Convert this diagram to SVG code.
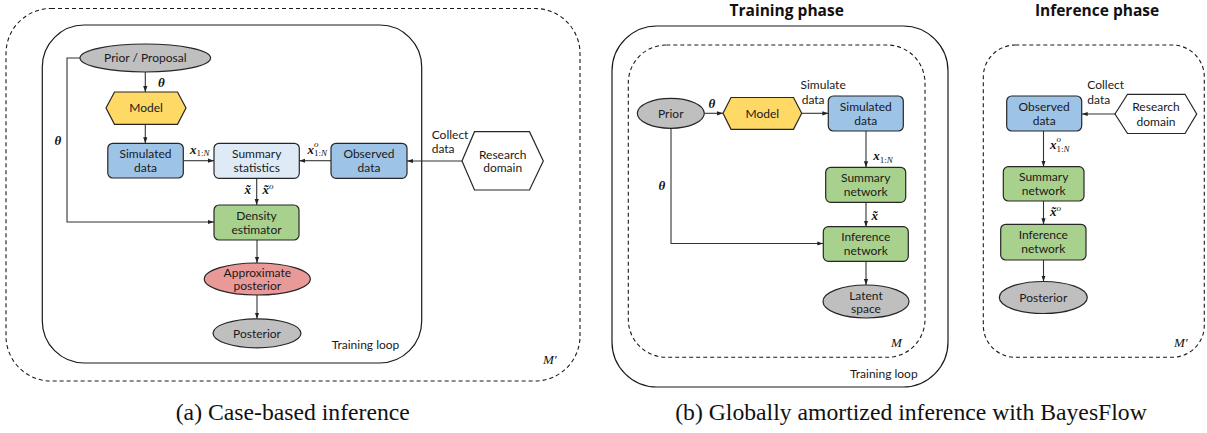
<svg xmlns="http://www.w3.org/2000/svg" width="1207" height="433" viewBox="0 0 1207 433">
<style>
.frame{fill:none;stroke:#1a1a1a;stroke-width:1.2}
.dash{fill:none;stroke:#1a1a1a;stroke-width:1.1;stroke-dasharray:4 3}
.node{stroke:#262626;stroke-width:1.2}
.blue{fill:#9DC3E6}
.lblue{fill:#DEEBF7}
.green{fill:#A9D18E}
.gold{fill:#FFD966}
.gray{fill:#BFBFBF}
.pink{fill:#EA9999}
.white{fill:#ffffff}
.t{font-family:Lato,"Open Sans",sans-serif;font-size:12px;fill:#1a1a1a;text-anchor:middle}
.tl{font-family:Lato,"Open Sans",sans-serif;font-size:12px;fill:#1a1a1a}
.title{font-family:"Open Sans",Lato,sans-serif;font-size:15.5px;font-weight:bold;fill:#111;text-anchor:middle}
.m{font-family:"Liberation Serif",serif;font-size:13px;font-style:italic;font-weight:bold;fill:#111}
.mi{font-family:"Liberation Serif",serif;font-size:13px;font-style:italic;fill:#111}
.sub{font-family:"Liberation Serif",serif;font-size:9px;font-style:normal;font-weight:normal;fill:#111}
.it{font-style:italic}
.cap{font-family:"Liberation Serif","Times New Roman",serif;font-size:23.7px;fill:#111;text-anchor:middle}
.c{fill:none;stroke:#333;stroke-width:1.1;marker-end:url(#arr)}
</style>
<defs>
<marker id="arr" viewBox="0 0 10 10" refX="10" refY="5" markerWidth="6" markerHeight="6" markerUnits="userSpaceOnUse" orient="auto">
<path d="M0,1.5 L10,5 L0,8.5 z" fill="#222"/>
</marker>
</defs>

<!-- containers -->
<g id="containers">
<rect class="dash" x="6" y="8.5" width="574" height="372.5" rx="45" ry="45"/>
<rect class="frame" x="42.3" y="25" width="379.4" height="338" rx="42" ry="42"/>
<rect class="frame" x="612" y="26" width="336" height="361" rx="45" ry="45"/>
<rect class="dash" x="628.3" y="45" width="296.7" height="312.3" rx="38" ry="38"/>
<rect class="dash" x="983.3" y="45" width="221" height="312.3" rx="32" ry="32"/>
</g>

<!-- connectors -->
<g id="connectors">
<path class="c" d="M145.3,72 V92"/>
<path class="c" d="M145.3,124.3 V143.3"/>
<path class="c" d="M183.3,160.7 H214"/>
<path class="c" d="M331,160.7 H299.3"/>
<path class="c" d="M462,161 H407"/>
<path class="c" d="M256.7,178.3 V205"/>
<path class="c" d="M80,58 H67 V222 H214"/>
<path class="c" d="M257,240 V263"/>
<path class="c" d="M257,295 V318.8"/>

<path class="c" d="M704.3,113.3 H723"/>
<path class="c" d="M801.7,113.3 H828.3"/>
<path class="c" d="M866,131 V167.3"/>
<path class="c" d="M866,202.3 V226.7"/>
<path class="c" d="M671,128.3 V243.5 H823.3"/>
<path class="c" d="M866,261.3 V285"/>

<path class="c" d="M1115,114 H1081.7"/>
<path class="c" d="M1043.5,131 V166.7"/>
<path class="c" d="M1043.5,201 V224.3"/>
<path class="c" d="M1043.5,260 V281.5"/>
</g>

<!-- panel (a) nodes -->
<g id="a-prior">
<ellipse class="node gray" cx="145.3" cy="58" rx="65.3" ry="14"/>
<text class="t" x="145.3" y="62">Prior / Proposal</text>
</g>
<g id="a-model">
<polygon class="node gold" points="106,108 114.5,92 177.5,92 186,108 177.5,124.3 114.5,124.3"/>
<text class="t" x="146" y="112.3">Model</text>
</g>
<g id="a-simulated">
<rect class="node blue" x="107.8" y="143.3" width="75.5" height="34.7" rx="5"/>
<text class="t" x="145.5" y="158.3">Simulated</text>
<text class="t" x="145.5" y="171.7">data</text>
</g>
<g id="a-summary">
<rect class="node lblue" x="214" y="143.3" width="85.3" height="35" rx="5"/>
<text class="t" x="256.7" y="158.3">Summary</text>
<text class="t" x="256.7" y="171.7">statistics</text>
</g>
<g id="a-observed">
<rect class="node blue" x="331" y="143.3" width="76" height="35" rx="5"/>
<text class="t" x="369" y="158.3">Observed</text>
<text class="t" x="369" y="171.7">data</text>
</g>
<g id="a-research">
<polygon class="node white" points="462,161 474.5,131.7 529.5,131.7 543.3,161 529.5,190 474.5,190"/>
<text class="t" x="502.7" y="158.5">Research</text>
<text class="t" x="502.7" y="172.2">domain</text>
</g>
<g id="a-density">
<rect class="node green" x="214" y="205" width="85" height="35" rx="5"/>
<text class="t" x="256.5" y="220">Density</text>
<text class="t" x="256.5" y="233.5">estimator</text>
</g>
<g id="a-approx">
<ellipse class="node pink" cx="257.3" cy="279" rx="53" ry="16"/>
<text class="t" x="257.3" y="276.5">Approximate</text>
<text class="t" x="257.3" y="290">posterior</text>
</g>
<g id="a-posterior">
<ellipse class="node gray" cx="257" cy="333.3" rx="44" ry="14.5"/>
<text class="t" x="257" y="337.5">Posterior</text>
</g>

<!-- panel (a) labels -->
<g id="a-labels">
<text class="m" x="158" y="86.5">θ</text>
<text class="m" x="54.5" y="144.5">θ</text>
<text class="m" x="190" y="153.5">x<tspan class="sub" dy="2.5">1:<tspan class="it">N</tspan></tspan></text>
<text class="m" x="307.5" y="153.5">x<tspan class="sub it" dy="-7">o</tspan><tspan class="sub" dx="-4.5" dy="9.5">1:<tspan class="it">N</tspan></tspan></text>
<text class="m" x="244.5" y="193.5">x̃</text>
<text class="m" x="262.5" y="193.5">x̃<tspan class="sub it" dy="-5">o</tspan></text>
<text class="tl" x="431.7" y="139">Collect</text>
<text class="tl" x="431.7" y="153">data</text>
<text class="tl" x="331.7" y="348.5">Training loop</text>
<text class="mi" x="543" y="363.5">M′</text>
</g>

<!-- panel (b) training phase -->
<text class="title" x="786.7" y="15.5">Training phase</text>
<text class="title" x="1097" y="15.5">Inference phase</text>

<g id="b-prior">
<ellipse class="node gray" cx="670.8" cy="113.3" rx="33.5" ry="15"/>
<text class="t" x="670.8" y="117.5">Prior</text>
</g>
<g id="b-model">
<polygon class="node gold" points="723,113.3 731,97.5 793.5,97.5 801.7,113.3 793.5,129.3 731,129.3"/>
<text class="t" x="762.3" y="117.5">Model</text>
</g>
<g id="b-simulated">
<rect class="node blue" x="828.3" y="96" width="75" height="35" rx="5"/>
<text class="t" x="865.8" y="110.8">Simulated</text>
<text class="t" x="865.8" y="124.8">data</text>
</g>
<g id="b-summary">
<rect class="node green" x="825.7" y="167.3" width="80" height="35" rx="5"/>
<text class="t" x="865.7" y="182">Summary</text>
<text class="t" x="865.7" y="196">network</text>
</g>
<g id="b-inference">
<rect class="node green" x="823.3" y="226.7" width="85" height="34.6" rx="5"/>
<text class="t" x="865.8" y="241.3">Inference</text>
<text class="t" x="865.8" y="255.3">network</text>
</g>
<g id="b-latent">
<ellipse class="node gray" cx="866" cy="301.5" rx="43" ry="16.5"/>
<text class="t" x="866" y="299.7">Latent</text>
<text class="t" x="866" y="312.5">space</text>
</g>
<g id="b-labels">
<text class="m" x="708.5" y="107.5">θ</text>
<text class="m" x="658.5" y="190">θ</text>
<text class="tl" x="800.5" y="89">Simulate</text>
<text class="tl" x="801.7" y="103.5">data</text>
<text class="m" x="873.3" y="160">x<tspan class="sub" dy="2.5">1:<tspan class="it">N</tspan></tspan></text>
<text class="m" x="871.5" y="219.5">x̃</text>
<text class="mi" x="891" y="347">M</text>
<text class="tl" x="850" y="377.5">Training loop</text>
</g>

<!-- panel (b) inference phase -->
<g id="c-observed">
<rect class="node blue" x="1006.7" y="96" width="75" height="35" rx="5"/>
<text class="t" x="1044.2" y="110.8">Observed</text>
<text class="t" x="1044.2" y="124.8">data</text>
</g>
<g id="c-research">
<polygon class="node white" points="1115,114 1127.5,94.3 1185,94.3 1196.7,114 1185,133.5 1127.5,133.5"/>
<text class="t" x="1156" y="111.3">Research</text>
<text class="t" x="1156" y="125.5">domain</text>
</g>
<g id="c-summary">
<rect class="node green" x="1003.3" y="166.7" width="80.7" height="34.3" rx="5"/>
<text class="t" x="1043.7" y="181">Summary</text>
<text class="t" x="1043.7" y="195">network</text>
</g>
<g id="c-inference">
<rect class="node green" x="1000.7" y="224.3" width="85.3" height="35.7" rx="5"/>
<text class="t" x="1043.3" y="239.3">Inference</text>
<text class="t" x="1043.3" y="253.3">network</text>
</g>
<g id="c-posterior">
<ellipse class="node gray" cx="1043.3" cy="297.5" rx="44" ry="16"/>
<text class="t" x="1043.3" y="301.7">Posterior</text>
</g>
<g id="c-labels">
<text class="tl" x="1087.3" y="89">Collect</text>
<text class="tl" x="1087.3" y="103.5">data</text>
<text class="m" x="1050" y="149">x<tspan class="sub it" dy="-7">o</tspan><tspan class="sub" dx="-4.5" dy="9.5">1:<tspan class="it">N</tspan></tspan></text>
<text class="m" x="1050" y="215.5">x̃<tspan class="sub it" dy="-5">o</tspan></text>
<text class="mi" x="1174" y="347">M′</text>
</g>

<!-- captions -->
<text class="cap" x="292.8" y="420">(a) Case-based inference</text>
<text class="cap" x="911" y="420">(b) Globally amortized inference with BayesFlow</text>
</svg>
